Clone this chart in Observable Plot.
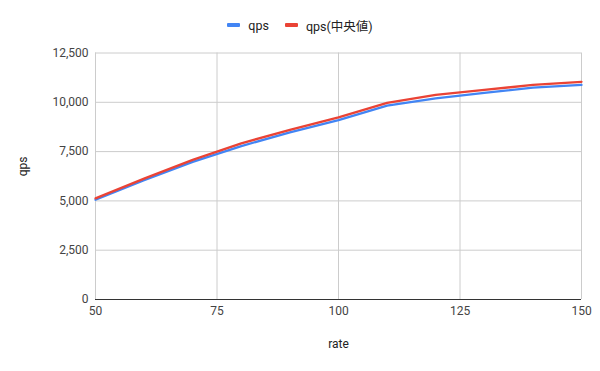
<!DOCTYPE html>
<html>
<head>
<meta charset="utf-8">
<script src="https://cdn.jsdelivr.net/npm/d3@7"></script>
<script src="https://cdn.jsdelivr.net/npm/@observablehq/plot@0.6"></script>
<style>
  html, body { margin: 0; padding: 0; background: #fff; }
  body { width: 600px; height: 371px; overflow: hidden; font-family: Roboto, Arial, "Noto Sans CJK JP", sans-serif; }
  #legend { height: 40px; box-sizing: border-box; padding-top: 10px; display: flex; justify-content: center; align-items: center; font-size: 12.5px; color: #222; }
  .item { display: flex; align-items: center; margin: 0 8px; }
  .sw { width: 13px; height: 4px; margin-right: 8px; border-radius: 1px; }
</style>
</head>
<body>
<div id="legend"></div>
<div id="chart"></div>
<script>
const rates = [50, 60, 70, 80, 90, 100, 110, 120, 130, 140, 150];
const qps = [5060, 6050, 6980, 7780, 8480, 9100, 9830, 10200, 10480, 10740, 10880];
const qpsMedian = [5130, 6130, 7080, 7920, 8600, 9240, 9970, 10380, 10630, 10880, 11040];
const seriesNames = ["qps", "qps(中央値)"];
const seriesColors = ["#4285f4", "#ea4335"];
const xTicks = [50, 75, 100, 125, 150];
const yTicks = [0, 2500, 5000, 7500, 10000, 12500];
const xLabel = "rate";
const yLabel = "qps";

const blueData = rates.map((r, i) => ({rate: r, value: qps[i], series: seriesNames[0]}));
const redData = rates.map((r, i) => ({rate: r, value: qpsMedian[i], series: seriesNames[1]}));

const legend = document.getElementById("legend");
seriesNames.forEach((n, i) => {
  const it = document.createElement("div");
  it.className = "item";
  const sw = document.createElement("div");
  sw.className = "sw";
  sw.style.background = seriesColors[i];
  const t = document.createElement("span");
  t.textContent = n;
  it.appendChild(sw); it.appendChild(t);
  legend.appendChild(it);
});

const fmt = d3.format(",");
const chart = Plot.plot({
  width: 600,
  height: 331,
  marginLeft: 95,
  marginRight: 19,
  marginTop: 12.5,
  marginBottom: 72,
  style: {fontFamily: 'Roboto, Arial, "Noto Sans CJK JP", sans-serif', fontSize: "12px", background: "#fff"},
  x: {domain: [50, 150]},
  y: {domain: [0, 12500]},
  color: {domain: seriesNames, range: seriesColors},
  marks: [
    Plot.gridX(xTicks, {stroke: "#cccccc", strokeOpacity: 1}),
    Plot.gridY(yTicks, {stroke: "#cccccc", strokeOpacity: 1}),
    Plot.axisX(xTicks, {tickSize: 0, tickPadding: 7, fill: "#444", fontSize: 12, label: null, tickFormat: d => d}),
    Plot.axisY(yTicks, {tickSize: 0, tickPadding: 7, fill: "#444", fontSize: 12, label: null, tickFormat: fmt}),
    Plot.ruleY([0], {stroke: "#333", strokeWidth: 1}),
    Plot.line(blueData, {x: "rate", y: "value", stroke: "series", strokeWidth: 2.3}),
    Plot.line(redData, {x: "rate", y: "value", stroke: "series", strokeWidth: 2.3}),
    Plot.text([xLabel], {frameAnchor: "bottom", dy: 48, text: d => d, fill: "#222", fontSize: 12}),
    Plot.text([yLabel], {frameAnchor: "left", dx: -72, rotate: -90, text: d => d, fill: "#222", fontSize: 12})
  ]
});
document.getElementById("chart").appendChild(chart);
</script>
</body>
</html>
